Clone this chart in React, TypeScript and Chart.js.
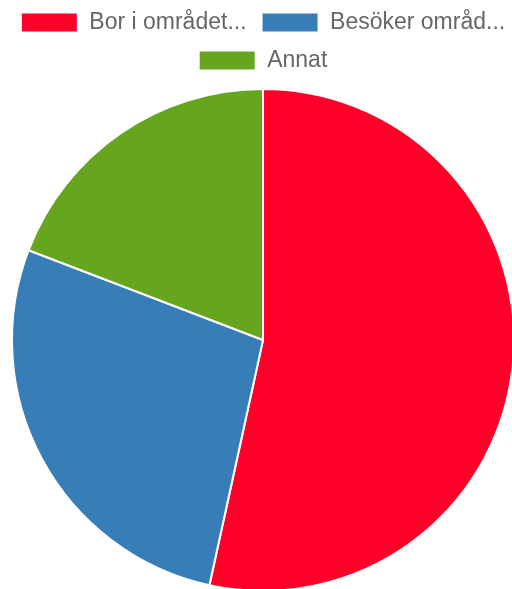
import React, { useEffect, useRef } from "react";
import { Chart, registerables } from "chart.js";

Chart.register(...registerables);

const categories: string[] = ["Bor i området...", "Besöker områd...", "Annat"];
const values: number[] = [78, 40, 28];
const colors: string[] = ["#ff0029", "#377eb8", "#66a61e"];

const legendGap = {
  id: "legendGap",
  beforeLayout(chart: any) {
    const lg = chart.legend;
    if (lg && !lg._gapPatched) {
      const orig = lg.fit.bind(lg);
      lg.fit = function () {
        orig();
        this.height += 6;
      };
      lg._gapPatched = true;
    }
  },
};

export default function App() {
  const ref = useRef<HTMLCanvasElement | null>(null);
  useEffect(() => {
    if (!ref.current) return;
    const chart = new Chart(ref.current, {
      type: "pie",
      data: {
        labels: categories,
        datasets: [
          {
            data: values,
            backgroundColor: colors,
            borderColor: "#ffffff",
            borderWidth: 2,
          },
        ],
      },
      options: {
        animation: false,
        responsive: false,
        maintainAspectRatio: false,
        layout: { padding: 0 },
        plugins: {
          tooltip: { enabled: false },
          legend: {
            position: "top",
            labels: {
              boxWidth: 57,
              boxHeight: 20,
              padding: 15,
              color: "#666666",
              font: { family: "'Liberation Sans', Arial, sans-serif", size: 23 },
            },
          },
        },
      },
      plugins: [legendGap],
    });
    return () => chart.destroy();
  }, []);
  return (
    <div style={{ position: "fixed", left: 0, top: 0, width: 512, height: 589, overflow: "hidden", background: "#fff" }}>
      <canvas
        ref={ref}
        width={540}
        height={596}
        style={{ position: "absolute", left: -7, top: -4, display: "block" }}
      />
    </div>
  );
}
